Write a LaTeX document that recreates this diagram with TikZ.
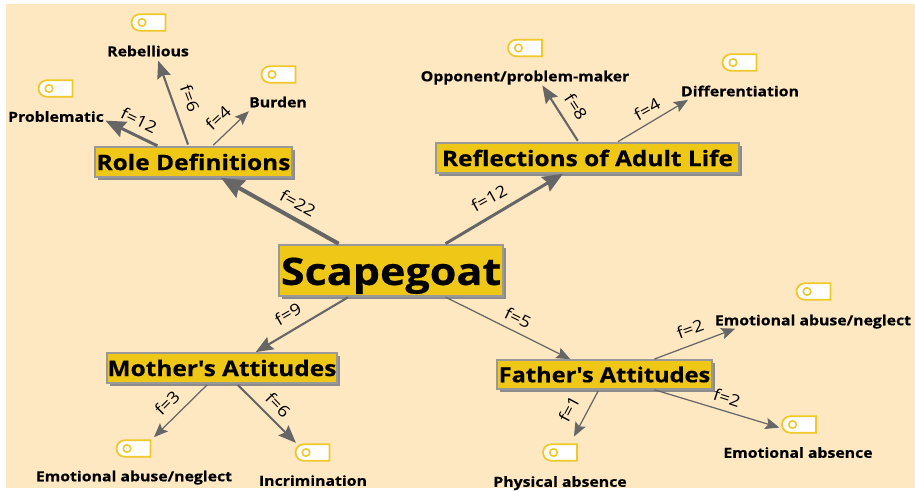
\documentclass[tikz,border=0pt]{standalone}
\usepackage{fontspec}
\setmainfont{Open Sans}[FakeStretch=1.14, BoldFeatures={FakeBold=0.5}]
\usepackage{xcolor}
\usepackage{tikz}
\usetikzlibrary{arrows.meta,shapes.misc,shadows}

\definecolor{pagepeach}{HTML}{FEE8C2}
\definecolor{boxyellow}{HTML}{EFC716}
\definecolor{tagyellow}{HTML}{F0C828}
\definecolor{linkgray}{HTML}{666666}

\tikzset{
    mainbox/.style={draw=black!40, line width=0.7pt, fill=boxyellow, inner sep=0pt, outer sep=0pt,
        general shadow={fill=black!45, shadow xshift=1.7pt, shadow yshift=-1.7pt}},
    leaftext/.style={inner sep=0pt, outer sep=0pt, minimum height=0.32cm, text height=6pt, text depth=0pt, font=\fontsize{7.9}{8}\bfseries},
    flabel/.style={inner sep=0pt, font=\fontsize{9.2}{10}\selectfont},
    tagbox/.style={rounded rectangle, rounded rectangle east arc=none, draw=tagyellow, line width=1pt,
        fill=white, inner sep=0pt, outer sep=0pt, minimum width=0.68cm, minimum height=0.33cm,
        path picture={\draw[tagyellow, line width=0.9pt] ([xshift=0.21cm]path picture bounding box.west) circle (0.075cm);}},
    thinlink/.style={draw=linkgray, line width=0.7pt, shorten <=1.5pt, shorten >=1pt, -{Stealth[length=8pt, width=6.5pt, inset=1.5pt]}},
    midlink/.style={draw=linkgray, line width=1.2pt, shorten <=1.5pt, shorten >=1pt, -{Stealth[length=10pt, width=8pt, inset=1.5pt]}},
    widelink/.style={draw=linkgray, line width=1.7pt, shorten <=1.5pt, shorten >=1pt, -{Stealth[length=11.5pt, width=9.5pt, inset=1.5pt]}},
    heavylink/.style={draw=linkgray, line width=2.3pt, shorten <=1.5pt, shorten >=1pt, -{Stealth[length=13pt, width=11pt, inset=1.5pt]}}
}

\begin{document}
\begin{tikzpicture}[x=0.02cm, y=-0.02cm]
    \useasboundingbox (0,0) rectangle (915,490);
    \fill[pagepeach] (6,4) rectangle (915,488);

    % === CENTRE AND BRANCHES ===
    \node[mainbox, minimum width=4.48cm, minimum height=1.02cm, text height=16.4pt, text depth=0pt, font=\fontsize{21.5}{22}\bfseries] (scapegoat) at (391,270.5) {Scapegoat};
    \node[mainbox, minimum width=3.94cm, minimum height=0.60cm, font=\fontsize{12.2}{13}\bfseries] (role) at (193.5,162) {Role Definitions};
    \node[mainbox, minimum width=6.06cm, minimum height=0.60cm, font=\fontsize{12.2}{13}\bfseries] (reflect) at (587.5,158) {Reflections of Adult Life\hspace{3pt}};
    \node[mainbox, minimum width=4.60cm, minimum height=0.60cm, font=\fontsize{12.2}{13}\bfseries] (mother) at (222,368) {Mother\textquotesingle s Attitudes};
    \node[mainbox, minimum width=4.30cm, minimum height=0.58cm, font=\fontsize{11.8}{13}\bfseries] (father) at (604.5,374.5) {Father\textquotesingle s Attitudes};

    % === LEAF TEXTS ===
    \node[leaftext, minimum width=1.60cm] (rebellious) at (148,51) {Rebellious};
    \node[leaftext, minimum width=1.16cm] (burden) at (278,102) {Burden};
    \node[leaftext, minimum width=1.90cm] (problematic) at (56,116.5) {Problematic};
    \node[leaftext, minimum width=4.20cm] (opponent) at (525,76) {Opponent/problem-maker};
    \node[leaftext, minimum width=2.32cm] (differ) at (740,91) {Differentiation};
    \node[leaftext, minimum width=3.92cm] (fatherabuse) at (813,320) {Emotional abuse/neglect};
    \node[leaftext, minimum width=3.92cm] (motherabuse) at (134,476) {Emotional abuse/neglect};
    \node[leaftext, minimum width=2.10cm] (incrim) at (313,480.5) {Incrimination};
    \node[leaftext, minimum width=2.62cm] (physical) at (560,481.5) {Physical absence};
    \node[leaftext, minimum width=2.96cm] (absence) at (798,452.5) {Emotional absence};

    % === TAGS ===
    \node[tagbox] (rebelliousTag) at (148.5,22.5) {};
    \node[tagbox] (burdenTag) at (278.5,74.5) {};
    \node[tagbox] (problematicTag) at (55.5,88.5) {};
    \node[tagbox] (opponentTag) at (525,48) {};
    \node[tagbox] (differTag) at (739.5,62.5) {};
    \node[tagbox] (motherabuseTag) at (133.5,448.5) {};
    \node[tagbox] (incrimTag) at (312.5,452.5) {};
    \node[tagbox] (physicalTag) at (560,452.5) {};
    \node[tagbox] (absenceTag) at (799,424.5) {};
    \node[tagbox] (fatherabuseTag) at (813.5,291.5) {};

    % === LINKS FROM THE CENTRE ===
    \draw[heavylink] (scapegoat.153) -- (role.-30);
    \draw[widelink] (scapegoat.26) -- (reflect.213.7);
    \draw[midlink] (scapegoat.212) -- (mother.25.8);
    \draw[thinlink] (scapegoat.-26.6) -- (father.156);

    % === LINKS FROM THE BRANCHES ===
    \draw[widelink] (role.156.5) -- (problematic.-4.2);
    \draw[midlink] (role.107.7) -- (rebellious.-40.4);
    \draw[thinlink] (role.40.6) -- (burden.196);
    \draw[midlink] (reflect.119.5) -- (opponent.-26.6);
    \draw[thinlink] (reflect.28.2) -- (differ.189.9);
    \draw[thinlink, shorten >=2.8pt] (mother.-131) -- (motherabuseTag.25.9);
    \draw[midlink, shorten >=2.4pt] (mother.-47) -- (incrimTag.154.1);
    \draw[thinlink] (father.17.7) -- (fatherabuse.186.25);
    \draw[thinlink, shorten >=5pt] (father.-110.8) -- (physicalTag.40.4);
    \draw[thinlink, shorten >=2.3pt] (father.-17.1) -- (absenceTag.195.5);

    % === FREQUENCY LABELS ===
    \node[flabel, rotate=-29] (f22) at (298,203) {f=22};
    \node[flabel, rotate=29] (f12b) at (489,198) {f=12};
    \node[flabel, rotate=30] (f9) at (288,314) {f=9};
    \node[flabel, rotate=-26] (f5) at (518,318) {f=5};
    \node[flabel, rotate=-26] (f12a) at (139,120) {f=12};
    \node[flabel, rotate=-70] (f6a) at (190,98) {f=6};
    \node[flabel, rotate=43] (f4a) at (218,118) {f=4};
    \node[flabel, rotate=-57] (f8) at (576,107) {f=8};
    \node[flabel, rotate=29] (f4b) at (647,109) {f=4};
    \node[flabel, rotate=45] (f3) at (167,403) {f=3};
    \node[flabel, rotate=-46] (f6b) at (278,405) {f=6};
    \node[flabel, rotate=20] (f2a) at (690,329) {f=2};
    \node[flabel, rotate=-18] (f2b) at (727,398) {f=2};
    \node[flabel, rotate=62] (f1) at (569,409) {f=1};
\end{tikzpicture}
\end{document}
